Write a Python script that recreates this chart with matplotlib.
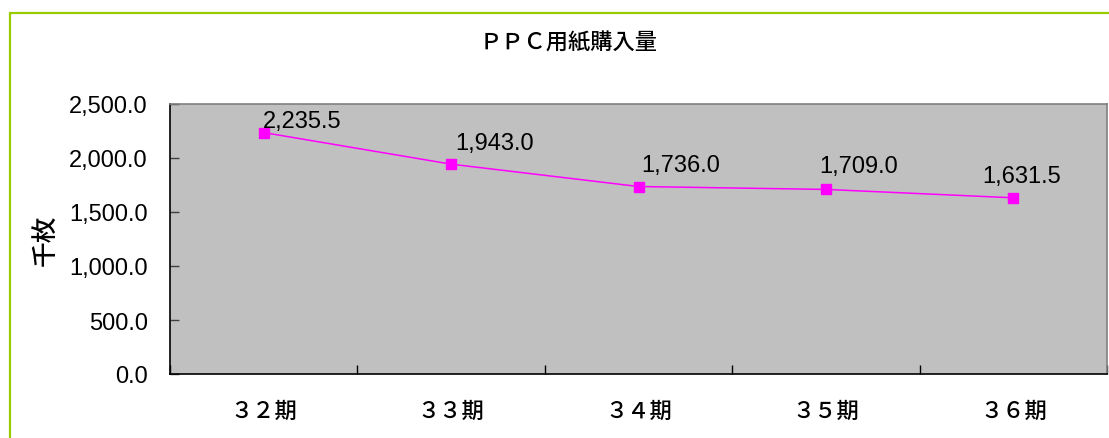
import matplotlib
matplotlib.use("Agg")
import matplotlib.pyplot as plt
from matplotlib.patches import Rectangle
from matplotlib.ticker import FuncFormatter
import numpy as np

## data
periods = ["３２期", "３３期", "３４期", "３５期", "３６期"]
sheets = [2235.5, 1943.0, 1736.0, 1709.0, 1631.5]
title = "ＰＰＣ用紙購入量"
ylabel = "千枚"

## label offsets in pixels (dx, dy) from each marker
label_offsets = [(38, 12), (43, 21), (42, 22), (33, 23), (8, 22)]

plt.rcParams['font.family'] = ['Liberation Sans', 'DejaVu Sans']
jp = ['Noto Sans CJK JP', 'DejaVu Sans']

fig = plt.figure(figsize=(11.09, 4.39), dpi=100)

# outer chart frame (cut at the right and bottom of the picture)
fig.patches.append(Rectangle((9.5/1109, -0.1), 1.2, (439-13.5)/439 + 0.1,
                             transform=fig.transFigure, fill=False,
                             edgecolor='#99CC00', linewidth=1.6))

ax = fig.add_axes([170/1109, (439-375)/439, 937/1109, 270/439])
ax.set_facecolor('#C0C0C0')

x = np.arange(len(periods))
ax.plot(x, sheets, color='#FF00FF', linewidth=1.1, marker='s',
        markersize=7.5, markerfacecolor='#FF00FF', markeredgecolor='#FF00FF')

for xi, v, (dx, dy) in zip(x, sheets, label_offsets):
    ax.annotate(f"{v:,.1f}", (xi, v), xytext=(dx * 0.72, dy * 0.72),
                textcoords='offset points', ha='center', va='center',
                fontsize=17, color='black')

ax.set_xlim(-0.5, len(periods) - 0.5)
ax.set_ylim(0, 2500)
ax.set_yticks(np.arange(0, 2501, 500))
ax.yaxis.set_major_formatter(FuncFormatter(lambda v, p: f"{v:,.1f}"))
ax.tick_params(axis='y', direction='in', length=6.5, width=1, pad=16,
               labelsize=17, color='#404040')

# ticks between categories, labels at the categories
ax.set_xticks(np.arange(-0.5, len(periods)), labels=[''] * (len(periods) + 1))
ax.tick_params(axis='x', which='major', direction='in', length=6.5, width=1,
               color='black')
ax.set_xticks(x, minor=True)
ax.set_xticklabels(periods, minor=True, family=jp, fontsize=16,
                   fontweight='medium')
ax.tick_params(axis='x', which='minor', length=0, pad=18)

for s in ['top', 'right']:
    ax.spines[s].set_color('#808080')
    ax.spines[s].set_linewidth(1.2)
for s in ['left', 'bottom']:
    ax.spines[s].set_color('black')
    ax.spines[s].set_linewidth(1.2)

fig.text(569/1109, 1 - 43/439, title, family=jp, fontsize=16,
         fontweight='medium', ha='center', va='center')
fig.text(45/1109, 1 - 240/439, ylabel, family=jp, fontsize=18.5,
         fontweight='medium', ha='center', va='center', rotation=90)

fig.savefig('out.png', dpi=100)
